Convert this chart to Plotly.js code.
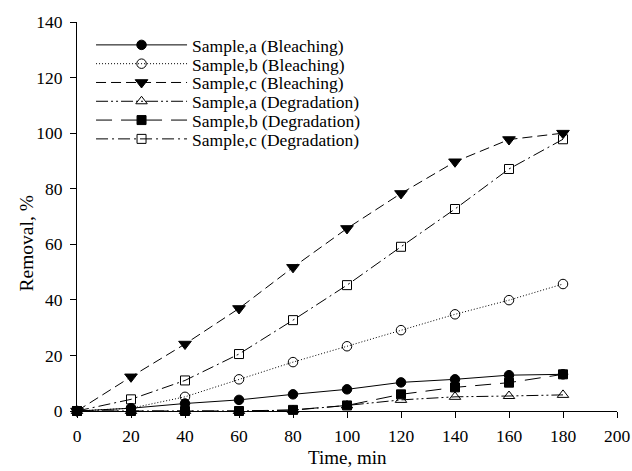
<!DOCTYPE html>
<html>
<head>
<meta charset="utf-8">
<script src="https://cdn.plot.ly/plotly-3.0.1.min.js"></script>
<style>html,body{margin:0;padding:0;background:#fff;}#chart{width:632px;height:471px;}</style>
</head>
<body>
<div id="chart"></div>
<script>
const time = [0, 20, 40, 60, 80, 100, 120, 140, 160, 180];
const seriesNames = [
  "Sample,a (Bleaching)", "Sample,b (Bleaching)", "Sample,c (Bleaching)",
  "Sample,a (Degradation)", "Sample,b (Degradation)", "Sample,c (Degradation)"
];
const bleachA = [0, 1, 2.7, 4.0, 6.0, 7.8, 10.3, 11.4, 12.9, 13.2];
const bleachB = [0, 1, 5.1, 11.4, 17.6, 23.3, 29.1, 34.8, 39.9, 45.7];
const bleachC = [0, 12.3, 24.1, 36.9, 51.7, 65.7, 78.3, 89.7, 97.7, 100];
const degA = [0, 0, 0, 0, 0.3, 2.0, 4.0, 5.1, 5.4, 5.8];
const degB = [0, 0, 0, 0, 0.4, 2.0, 6.0, 8.5, 10.2, 13.2];
const degC = [0, 4.2, 11.0, 20.5, 32.7, 45.3, 59.1, 72.7, 87.1, 97.8];
const xTicks = [0, 20, 40, 60, 80, 100, 120, 140, 160, 180, 200];
const yTicks = [0, 20, 40, 60, 80, 100, 120, 140];

const values = [bleachA, bleachB, bleachC, degA, degB, degC];
const styles = [
  {dash: "solid", symbol: "circle", size: 9.5},
  {dash: "1px,2px", symbol: "circle-open", size: 9.5},
  {dash: "10px,5px", symbol: "triangle-down", size: 11},
  {dash: "12px,3px,2px,3px,2px,3px", symbol: "triangle-up-open", size: 10},
  {dash: "16px,9px", symbol: "square", size: 9},
  {dash: "12px,4px,2px,4px", symbol: "square-open", size: 9}
];
const legendIds = ["legend", "legend2", "legend3", "legend4", "legend5", "legend6"];
const traces = values.map((v, i) => ({
  x: time, y: v, name: seriesNames[i], type: "scatter", mode: "lines+markers",
  legend: legendIds[i],
  line: {color: "#000", width: 1, dash: styles[i].dash},
  marker: {symbol: styles[i].symbol, size: styles[i].size, color: "#000",
           line: {color: "#000", width: 1}},
  cliponaxis: false
}));

const font = {family: "Liberation Serif, Times New Roman, serif", color: "#000"};
const plotTop = 22, plotH = 389;
const rowY = [45, 63.8, 82.6, 101.4, 120.2, 139];
const layout = {
  width: 632, height: 471,
  margin: {l: 77, r: 15, t: plotTop, b: 60},
  paper_bgcolor: "#fff", plot_bgcolor: "#fff",
  font: Object.assign({size: 17}, font),
  showlegend: true,
  xaxis: {range: [0, 200], tickvals: xTicks, ticktext: xTicks.map(String),
          showgrid: false, zeroline: false, showline: true, linecolor: "#000", linewidth: 1,
          ticks: "outside", ticklen: 6, tickcolor: "#000", tickwidth: 1,
          ticklabelstandoff: 3, tickfont: Object.assign({size: 17.5}, font)},
  yaxis: {range: [0, 140], tickvals: yTicks, ticktext: yTicks.map(String),
          showgrid: false, zeroline: false, showline: true, linecolor: "#000", linewidth: 1,
          ticks: "outside", ticklen: 6, tickcolor: "#000", tickwidth: 1,
          ticklabelstandoff: 4, tickfont: Object.assign({size: 17.5}, font)},
  annotations: [
    {text: "Time, min", xref: "paper", yref: "paper", x: 0.5, y: -0.12,
     xanchor: "center", yanchor: "middle", showarrow: false, font: Object.assign({size: 19}, font)},
    {text: "Removal, %", xref: "paper", yref: "paper", x: -0.093, y: 0.43,
     xanchor: "center", yanchor: "middle", textangle: -90, showarrow: false,
     font: Object.assign({size: 19.5}, font)}
  ]
};
legendIds.forEach((id, i) => {
  layout[id] = {x: 0.026, y: 1 - (rowY[i] - plotTop) / plotH, xanchor: "left", yanchor: "middle",
                bgcolor: "rgba(0,0,0,0)", borderwidth: 0, itemwidth: 91,
                font: Object.assign({size: 17.5}, font)};
});
Plotly.newPlot("chart", traces, layout, {staticPlot: true, displayModeBar: false});
</script>
</body>
</html>
